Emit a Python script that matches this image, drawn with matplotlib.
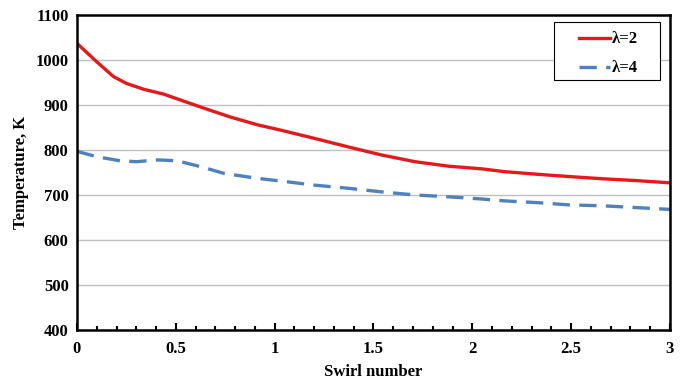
import matplotlib
matplotlib.use("Agg")
import matplotlib.pyplot as plt
from matplotlib.patches import Rectangle
from matplotlib.ticker import MultipleLocator

# swirl number vs temperature
swirl_l2 = [0, 0.10, 0.185, 0.25, 0.337, 0.44, 0.524, 0.642, 0.778, 0.913, 1.032,
            1.20, 1.371, 1.54, 1.71, 1.88, 2.05, 2.16, 2.33, 2.49, 2.66, 2.83, 3.0]
temp_l2 = [1037, 996, 963, 948, 935, 924, 911, 893, 873, 856, 844,
           826, 807, 789, 774, 764, 758, 752, 746, 741, 736, 732, 727]

swirl_l4 = [0, 0.10, 0.219, 0.30, 0.41, 0.507, 0.625, 0.744, 0.913, 1.05,
            1.20, 1.37, 1.54, 1.71, 1.88, 2.05, 2.16, 2.33, 2.49, 2.66, 2.83, 3.0]
temp_l4 = [797, 785, 776, 774, 778, 776, 763, 748, 737, 730,
           722, 715, 707, 700, 696, 691, 687, 683, 678, 676, 672, 668]

plt.rcParams['font.family'] = ['Liberation Serif', 'DejaVu Serif']
plt.rcParams['font.weight'] = 'bold'

fig = plt.figure(figsize=(6.85, 3.81), dpi=100)
ax = fig.add_axes([0.1124, 0.1339, 0.8657, 0.8267])

ax.plot(swirl_l2, temp_l2, color="#e31a1c", lw=2.4, label="λ=2")
ax.plot(swirl_l4, temp_l4, color="#4f81bd", lw=2.4, ls=(0, (5.2, 2.8)), label="λ=4")

ax.set_xlim(0, 3)
ax.set_ylim(400, 1100)
ax.xaxis.set_minor_locator(MultipleLocator(0.1))
ax.yaxis.set_major_locator(MultipleLocator(100))
ax.set_xticks([0, 0.5, 1, 1.5, 2, 2.5, 3], ["0", "0.5", "1", "1.5", "2", "2.5", "3"])
ax.grid(axis="y", color="#c0c0c0", lw=1)
ax.set_axisbelow(True)
ax.tick_params(axis="x", which="major", direction="in", length=5, width=1.5, labelsize=12, pad=8)
ax.tick_params(axis="x", which="minor", direction="in", length=3, width=1.5)
ax.tick_params(axis="y", length=0, labelsize=12, pad=6)
for s in ax.spines.values():
    s.set_linewidth(1.8)
    s.set_color("black")

ax.set_xlabel("Swirl number", fontsize=12, fontweight="bold", labelpad=5)
ax.set_ylabel("Temperature, K", fontsize=12, fontweight="bold", labelpad=5)

# legend box drawn separately: wide side padding like the original
ax.add_patch(Rectangle((0.8044, 0.7937), 0.1787, 0.1841, transform=ax.transAxes,
                       facecolor="white", edgecolor="black", lw=0.8, zorder=4))
leg = ax.legend(loc="upper right", bbox_to_anchor=(0.946, 0.948), frameon=False,
                fontsize=12, handlelength=1.9, borderpad=0, labelspacing=0.78,
                handletextpad=0.1, borderaxespad=0)
leg.set_zorder(5)

fig.savefig("out.png", dpi=100)
